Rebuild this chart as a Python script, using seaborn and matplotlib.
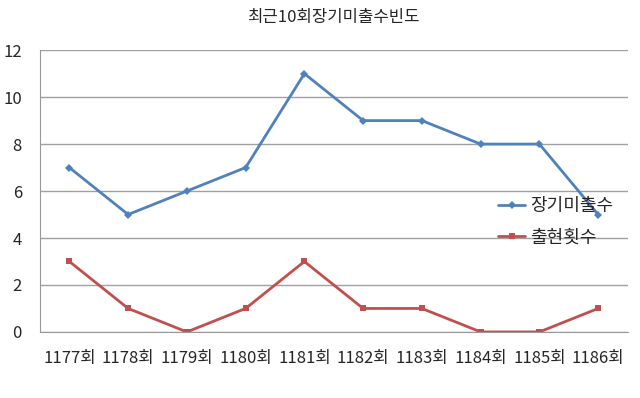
import matplotlib
matplotlib.use('Agg')
import matplotlib.pyplot as plt
import pandas as pd
import seaborn as sns

# Data
rounds = ['1177회', '1178회', '1179회', '1180회', '1181회',
          '1182회', '1183회', '1184회', '1185회', '1186회']
missing = [7, 5, 6, 7, 11, 9, 9, 8, 8, 5]
appear = [3, 1, 0, 1, 3, 1, 1, 0, 0, 1]

sns.set_style('white')
plt.rcParams['font.family'] = ['Noto Sans CJK KR', 'DejaVu Sans']

df = pd.DataFrame({'pos': range(len(rounds)), 'missing': missing, 'appear': appear})

fig = plt.figure(figsize=(6.4, 3.98), dpi=100)
ax = fig.add_axes([0.0625, 0.166, 0.918, 0.708])

sns.lineplot(data=df, x='pos', y='missing', ax=ax, color='#4F81BD', lw=2,
             marker='D', markersize=4, markeredgewidth=0, label='장기미출수')
sns.lineplot(data=df, x='pos', y='appear', ax=ax, color='#C0504D', lw=2,
             marker='s', markersize=5, markeredgewidth=0, label='출현횟수')

ax.set_xlim(-0.5, len(rounds) - 0.5)
ax.set_ylim(0, 12)
ax.set_yticks(range(0, 13, 2))
ax.set_xticks(range(len(rounds)))
ax.set_xticklabels(rounds, fontsize=12)
ax.set_xticks([i - 0.5 for i in range(len(rounds) + 1)], minor=True)
ax.tick_params(axis='x', which='major', length=0, pad=13)
ax.tick_params(axis='x', which='minor', length=6, color='#888888', direction='out')
ax.tick_params(axis='y', labelsize=12, length=5, color='#888888', direction='out', pad=8)
ax.set_xlabel('')
ax.set_ylabel('')
ax.grid(axis='y', color='#a0a0a0', lw=1)
ax.set_axisbelow(True)
for s in ['top', 'right']:
    ax.spines[s].set_visible(False)
for s in ['left', 'bottom']:
    ax.spines[s].set_color('#999999')

ax.set_title('최근10회장기미출수빈도', fontsize=12, pad=20)
ax.legend(loc='center left', bbox_to_anchor=(0.752, 0.39), frameon=False,
          fontsize=13, handlelength=1.5, handletextpad=0.3, labelspacing=0.75)

fig.savefig('out.png', dpi=100)
